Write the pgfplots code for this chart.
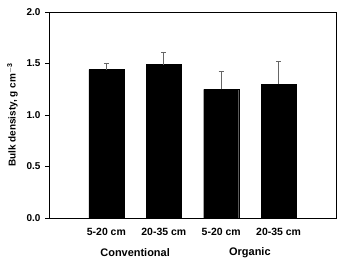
\documentclass[border=0pt]{standalone}
\usepackage{pgfplots}
\pgfplotsset{compat=1.18}
\usepackage{fontspec}
\setmainfont{Liberation Sans}
\begin{document}
\begin{tikzpicture}
\begin{axis}[
  scale only axis,
  width=287bp, height=206bp,
  xmin=-1, xmax=4,
  ymin=0, ymax=2,
  ytick={0,0.5,1,1.5,2},
  yticklabel style={/pgf/number format/fixed,/pgf/number format/fixed zerofill,/pgf/number format/precision=1, xshift=-1bp, font=\fontsize{10}{12}\selectfont\bfseries},
  /pgf/number format/assume math mode=true,
  xtick={0,1,2,3},
  xticklabels={5-20 cm,20-35 cm,5-20 cm,20-35 cm},
  xtick style={draw=none},
  ytick style={black, line width=0.6pt},
  tick align=outside,
  tick pos=left,
  major tick length=4bp,
  xticklabel style={yshift=-3bp, font=\fontsize{10.5}{12}\selectfont\bfseries},
  ylabel={Bulk densisty, g cm$^{\mathbf{-3}}$},
  ylabel style={font=\fontsize{10}{12}\selectfont\bfseries, yshift=2bp},
  axis line style={black, line width=0.6pt},
  clip=false,
]
\addplot[ybar, bar width=35bp, fill=black, draw=black,
  error bars/.cd, y dir=plus, y explicit,
  error bar style={gray!80!black, line width=0.8pt},
  error mark options={gray!80!black, line width=0.8pt, mark size=2.5bp, rotate=90}]
  coordinates {(0,1.44) +- (0,0.06) (1,1.49) +- (0,0.12) (2,1.25) +- (0,0.17) (3,1.30) +- (0,0.22)};
\node[font=\fontsize{11}{13}\selectfont\bfseries] at (axis cs:0.5,0) [yshift=-35bp] {Conventional};
\node[font=\fontsize{11}{13}\selectfont\bfseries] at (axis cs:2.5,0) [yshift=-35bp] {Organic};
\path (rel axis cs:0,0) ++(-49bp,-42bp) coordinate (bl);
\path (rel axis cs:1,1) ++(2bp,12bp) coordinate (tr);
\useasboundingbox (bl) rectangle (tr);
\end{axis}
\end{tikzpicture}
\end{document}
